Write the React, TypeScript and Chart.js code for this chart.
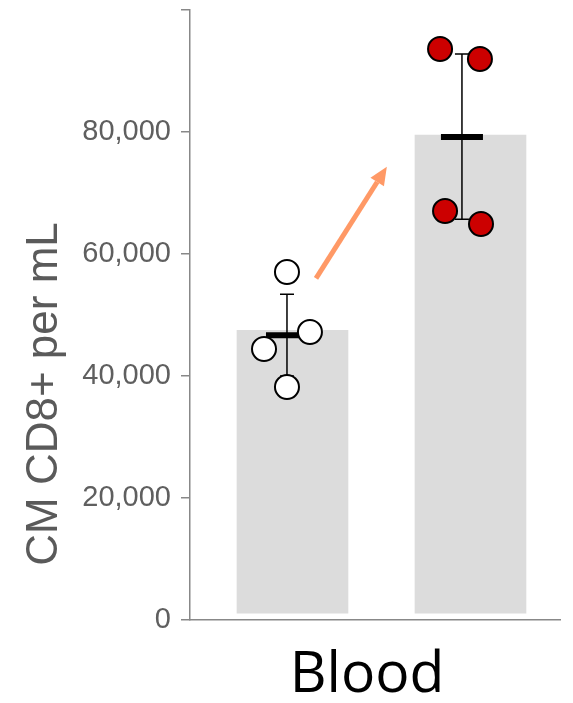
import React, { useEffect, useRef } from 'react';
import Chart from 'chart.js/auto';

// group centres on the linear x axis (bars), and where the dots / error bars sit
const barX = [1, 2];
const centreX = [0.969, 1.952];
const barBase = [1100, 1100];
const barTops = [47500, 79500];
const means = [46700, 79200];
const errHigh = [53400, 92800];
const errLow = [40000, 65700];

const group1X = [0.969, 0.84, 1.098, 0.969];
const group1Y = [57050, 44430, 47210, 38200];
const group2X = [1.829, 2.053, 1.857, 2.059];
const group2Y = [93600, 91970, 67050, 64920];

const arrowFrom = { x: 1.132, y: 56000 };
const arrowTo = { x: 1.53, y: 74300 };

const yTitle = 'CM CD8+ per mL';
const xLabel = 'Blood';

const fmt = (v: number) => new Intl.NumberFormat('en-US').format(v);

export default function App() {
    const chartRef = useRef<HTMLCanvasElement | null>(null);

    useEffect(() => {
        document.body.style.margin = '0';
        let chart: Chart | null = null;
        if (!chartRef.current) return;
        const ctx = chartRef.current.getContext('2d');
        if (!ctx) return;

        const extras = {
            id: 'extras',
            afterDatasetDraw(c: any, args: any) {
                if (args.index !== 0) return;
                const x = c.scales.x;
                const y = c.scales.y;
                const g = c.ctx;
                g.save();
                g.strokeStyle = '#000';
                g.lineWidth = 1.5;
                centreX.forEach((cx, i) => {
                    const px = x.getPixelForValue(cx);
                    const top = y.getPixelForValue(errHigh[i]);
                    const bot = y.getPixelForValue(errLow[i]);
                    g.beginPath();
                    g.moveTo(px, top);
                    g.lineTo(px, bot);
                    g.moveTo(px - 7, top);
                    g.lineTo(px + 7, top);
                    g.moveTo(px - 7, bot);
                    g.lineTo(px + 7, bot);
                    g.stroke();
                });
                g.restore();
            },
            afterDatasetsDraw(c: any) {
                const x = c.scales.x;
                const y = c.scales.y;
                const g = c.ctx;
                g.save();
                // arrow
                const x0 = x.getPixelForValue(arrowFrom.x);
                const y0 = y.getPixelForValue(arrowFrom.y);
                const x1 = x.getPixelForValue(arrowTo.x);
                const y1 = y.getPixelForValue(arrowTo.y);
                const ang = Math.atan2(y1 - y0, x1 - x0);
                const headLen = 18;
                const headW = 8;
                const bx = x1 - Math.cos(ang) * headLen;
                const by = y1 - Math.sin(ang) * headLen;
                g.strokeStyle = '#ff9966';
                g.fillStyle = '#ff9966';
                g.lineWidth = 5;
                g.beginPath();
                g.moveTo(x0, y0);
                g.lineTo(bx, by);
                g.stroke();
                g.beginPath();
                g.moveTo(x1, y1);
                g.lineTo(bx + Math.sin(ang) * headW, by - Math.cos(ang) * headW);
                g.lineTo(bx - Math.sin(ang) * headW, by + Math.cos(ang) * headW);
                g.closePath();
                g.fill();

                // axis title
                g.fillStyle = '#5a5a5a';
                g.font = '44px "Liberation Sans", Arial, sans-serif';
                g.textAlign = 'center';
                g.textBaseline = 'alphabetic';
                g.translate(57, 394);
                g.rotate(-Math.PI / 2);
                g.fillText(yTitle, 0, 0);
                g.setTransform(1, 0, 0, 1, 0, 0);
                g.restore();

                g.save();
                g.fillStyle = '#000';
                g.font = '57px "Open Sans", sans-serif';
                g.textAlign = 'center';
                g.textBaseline = 'alphabetic';
                g.fillText(xLabel, 367, 692);
                g.restore();
            }
        };

        const noPad = (s: any) => {
            s.paddingTop = 0;
            s.paddingBottom = 0;
            s.paddingLeft = 0;
            s.paddingRight = 0;
        };

        chart = new Chart(ctx, {
            type: 'bar',
            data: {
                datasets: [
                    {
                        type: 'bar',
                        data: barX.map((bx, i) => ({ x: bx, y: [barBase[i], barTops[i]] })) as any,
                        backgroundColor: '#dcdcdc',
                        barThickness: 111,
                        order: 3
                    },
                    {
                        type: 'scatter',
                        data: centreX.map((cx, i) => ({ x: cx, y: means[i] })),
                        pointStyle: 'line',
                        pointRadius: 21,
                        borderColor: '#000',
                        borderWidth: 6,
                        order: 2
                    },
                    {
                        type: 'scatter',
                        data: group1X.map((gx, i) => ({ x: gx, y: group1Y[i] })),
                        pointRadius: 12,
                        backgroundColor: '#ffffff',
                        borderColor: '#000',
                        borderWidth: 2,
                        order: 1
                    },
                    {
                        type: 'scatter',
                        data: group2X.map((gx, i) => ({ x: gx, y: group2Y[i] })),
                        pointRadius: 12,
                        backgroundColor: '#cc0000',
                        borderColor: '#000',
                        borderWidth: 2,
                        order: 1
                    }
                ]
            },
            options: {
                responsive: true,
                maintainAspectRatio: false,
                animation: false,
                layout: { autoPadding: false, padding: { top: 10, right: 13, left: 0, bottom: 0 } },
                plugins: { legend: { display: false }, tooltip: { enabled: false } },
                scales: {
                    x: {
                        type: 'linear',
                        offset: false,
                        min: 0.4242,
                        max: 2.5028,
                        ticks: { display: false },
                        grid: { display: false, offset: false },
                        border: { display: true, color: '#888', width: 1.5 },
                        afterFit: (s: any) => { s.height = 83; noPad(s); }
                    },
                    y: {
                        min: 0,
                        max: 100000,
                        ticks: {
                            stepSize: 20000,
                            padding: 10,
                            color: '#5f5f5f',
                            font: { size: 29, family: '"Liberation Sans", Arial, sans-serif' },
                            callback: (v: any) => (v === 100000 ? '' : fmt(v))
                        },
                        grid: { drawOnChartArea: false, tickLength: 9, color: '#888', lineWidth: 1.5 },
                        border: { display: true, color: '#888', width: 1.5 },
                        afterFit: (s: any) => { s.width = 190; noPad(s); }
                    }
                }
            },
            plugins: [extras]
        });

        return () => {
            if (chart) chart.destroy();
        };
    }, []);

    return (
        <div style={{ width: 573, height: 703, position: 'relative' }}>
            <canvas ref={chartRef}></canvas>
        </div>
    );
}
